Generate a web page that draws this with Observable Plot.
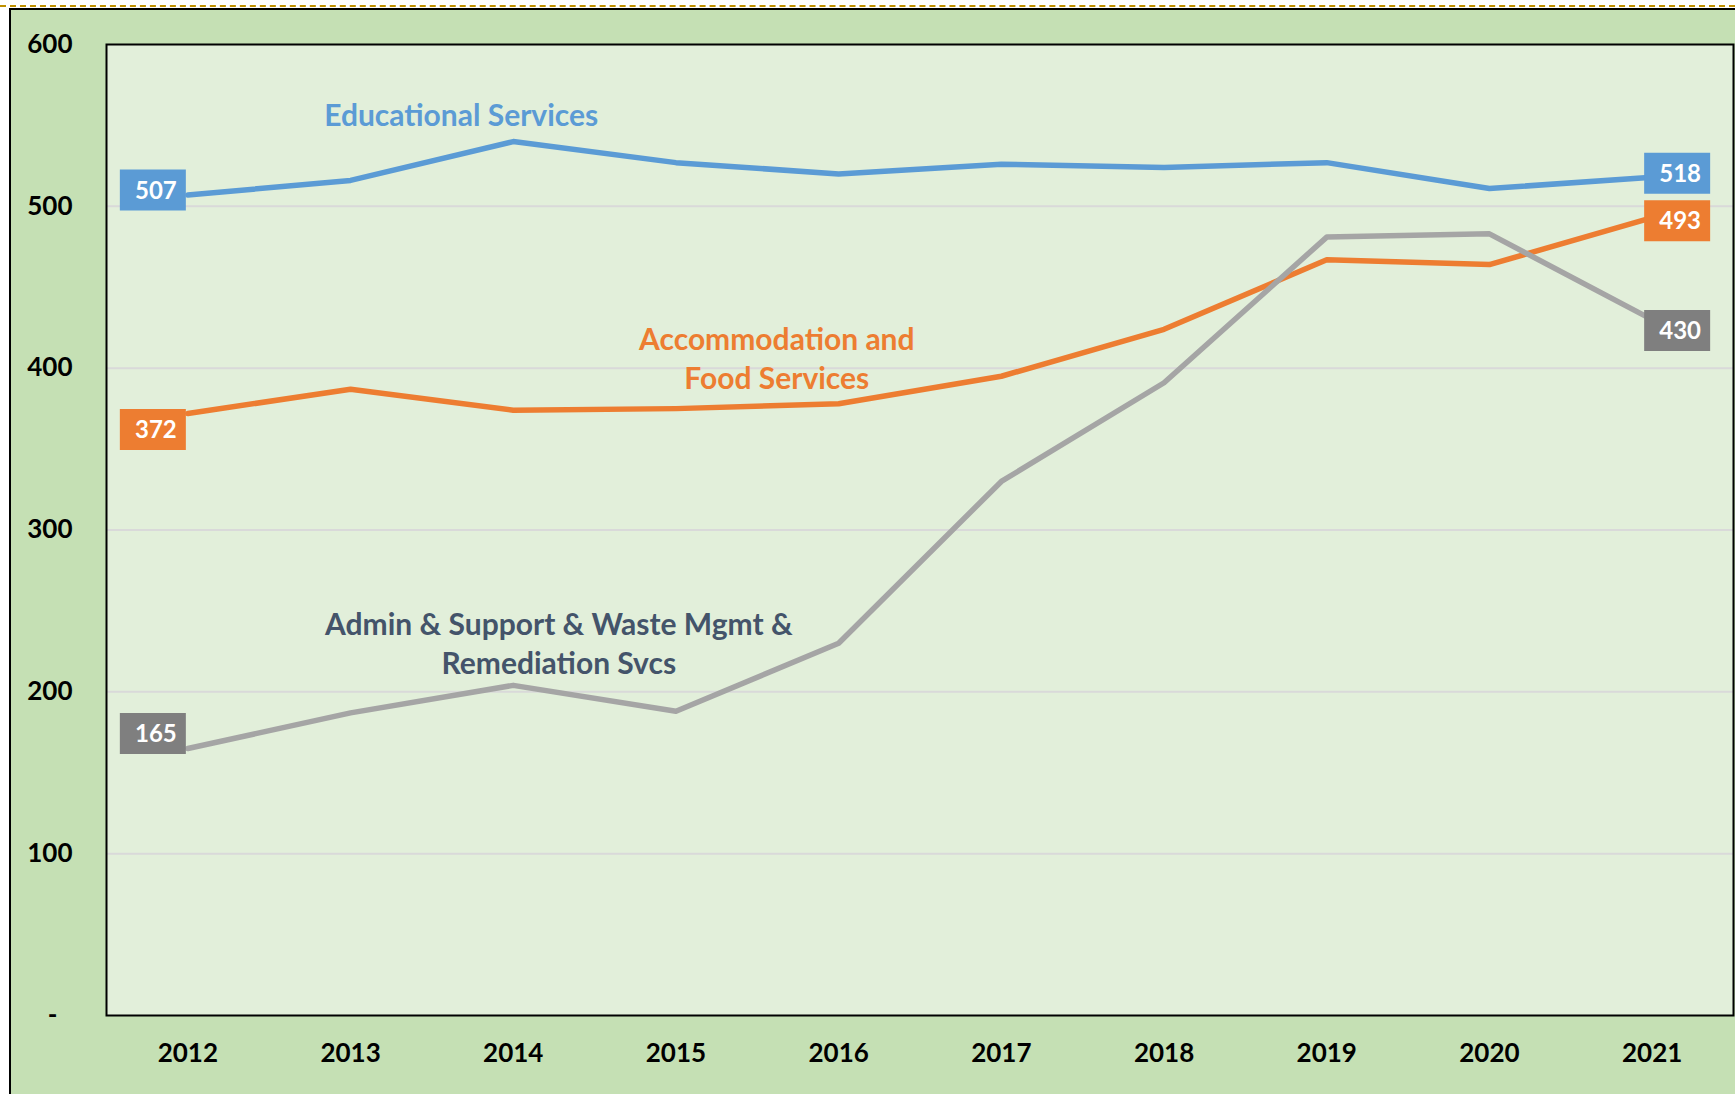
<!DOCTYPE html>
<html>
<head>
<meta charset="utf-8">
<script src="https://cdn.jsdelivr.net/npm/d3@7"></script>
<script src="https://cdn.jsdelivr.net/npm/@observablehq/plot@0.6"></script>
<style>
  html, body { margin: 0; padding: 0; background: #ffffff; }
  #page { position: relative; width: 1735px; height: 1094px; overflow: hidden; font-family: Lato, "Open Sans", sans-serif; }
  #dash { position: absolute; left: 0; top: 5px; width: 1735px; height: 0; border-top: 2px dashed #BF9000; }
  #bg { position: absolute; left: 9px; top: 8px; width: 1740px; height: 1100px; background: #C5E0B4; border-left: 2px solid #000; border-top: 2px solid #000; }
  #chart { position: absolute; left: 0; top: 0; }
</style>
</head>
<body>
<div id="page">
  <div id="dash"></div>
  <div id="bg"></div>
  <div id="chart"></div>
</div>
<script>
const years = [2012, 2013, 2014, 2015, 2016, 2017, 2018, 2019, 2020, 2021];
const educational = [507, 516, 540, 527, 520, 526, 524, 527, 511, 518];
const accommodation = [372, 387, 374, 375, 378, 395, 424, 467, 464, 493];
const admin = [165, 187, 204, 188, 230, 330, 391, 481, 483, 430];
const yTicks = [0, 100, 200, 300, 400, 500, 600];

const seriesNames = ["Educational Services", "Accommodation and\nFood Services", "Admin & Support & Waste Mgmt &\nRemediation Svcs"];
const seriesValues = [educational, accommodation, admin];
const lineColors = ["#5B9BD5", "#ED7D31", "#A5A5A5"];
const boxColors = ["#5B9BD5", "#ED7D31", "#7F7F7F"];
const nameColors = ["#5B9BD5", "#ED7D31", "#44546A"];
// name annotation anchors (data units)
const nameX = [2013.68, 2015.62, 2014.28];
const nameY = [557.5, 407, 231];

// vertical nudges of end-label boxes (pixels), per series: [start, end]
const startDy = [-5, 16, -15];
const endDy = [-4, 3, 11];

const rows = [];
seriesValues.forEach((vals, s) => vals.forEach((v, i) => rows.push({series: s, year: years[i], value: v})));

const boxW = 66, boxH = 41;
const rectSymbol = {
  draw(ctx) {
    ctx.moveTo(-boxW / 2, -boxH / 2);
    ctx.lineTo(boxW / 2, -boxH / 2);
    ctx.lineTo(boxW / 2, boxH / 2);
    ctx.lineTo(-boxW / 2, boxH / 2);
    ctx.closePath();
  }
};

const endMarks = [];
seriesValues.forEach((vals, s) => {
  const first = [{year: years[0], value: vals[0]}];
  const last = [{year: years[years.length - 1], value: vals[vals.length - 1]}];
  [[first, -35, startDy[s]], [last, 25, endDy[s]]].forEach(([d, dx, dy]) => {
    endMarks.push(Plot.dot(d, {x: "year", y: "value", symbol: rectSymbol, r: 10, fill: boxColors[s], dx, dy}));
    endMarks.push(Plot.text(d, {x: "year", y: "value", text: (r) => String(r.value), fill: "#ffffff",
      fontSize: 24, fontWeight: "bold", fontFamily: "Lato", dx: dx + 3, dy: dy + 1, textAnchor: "middle"}));
  });
});

const chart = Plot.plot({
  width: 1735,
  height: 1094,
  marginLeft: 106,
  marginRight: 2,
  marginTop: 44,
  marginBottom: 79,
  style: {background: "transparent", fontFamily: "Lato", overflow: "visible"},
  x: {type: "linear", domain: [2011.5, 2021.5]},
  y: {domain: [0, 600]},
  marks: [
    Plot.frame({fill: "#E2EFDA"}),
    Plot.gridY({ticks: yTicks.slice(1, -1), stroke: "#D9D9D9", strokeOpacity: 1, strokeWidth: 2}),
    Plot.axisY({ticks: yTicks, tickSize: 0, tickPadding: 34, fontSize: 26, fontWeight: "bold", fill: "#000",
      tickFormat: (d) => d === 0 ? "-\u2007" : String(d), label: null}),
    Plot.axisX({ticks: years, tickSize: 0, tickPadding: 28, fontSize: 26, fontWeight: "bold", fill: "#000",
      tickFormat: (d) => String(d), label: null}),
    ...seriesValues.map((vals, s) => Plot.line(rows.filter((r) => r.series === s),
      {x: "year", y: "value", stroke: lineColors[s], strokeWidth: 5.5, strokeLinecap: "round", strokeLinejoin: "round"})),
    ...endMarks,
    ...seriesNames.map((name, s) => Plot.text([{x: nameX[s], y: nameY[s], t: name}],
      {x: "x", y: "y", text: "t", fill: nameColors[s], fontSize: 30, fontWeight: "bold", fontFamily: "Lato",
       lineAnchor: "middle", lineHeight: 1.3, textAnchor: "middle"})),
    Plot.frame({stroke: "#000", strokeWidth: 2})
  ]
});
document.getElementById("chart").appendChild(chart);
</script>
</body>
</html>
